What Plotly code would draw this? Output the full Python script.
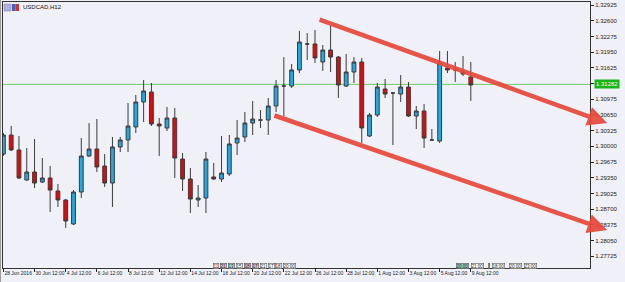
import plotly.graph_objects as go

# ---------------- data (USDCAD, H12 candles) ----------------
opens = [1.29841, 1.30234, 1.29924, 1.29302, 1.29468, 1.29261, 1.29344, 1.29075, 1.28889, 1.28392,
         1.29054, 1.29799, 1.29944, 1.29592, 1.29240, 1.29986, 1.30131, 1.30400, 1.30917, 1.31124,
         1.30462, 1.30379, 1.30586, 1.29737, 1.29323, 1.28889, 1.28930, 1.29365, 1.29323, 1.29427,
         1.30069, 1.30193, 1.30482, 1.30544, 1.30544, 1.30834, 1.31248, 1.31248, 1.31580, 1.32118,
         1.32118, 1.31745, 1.31993, 1.31848, 1.31248, 1.31538, 1.31745, 1.30213, 1.30648, 1.31186,
         1.31103, 1.31082, 1.31227, 1.30627, 1.30731, 1.30131, 1.30110, 1.31621, 1.31600, 1.31538, 1.31435]
highs = [1.30276, 1.30420, 1.30213, 1.29965, 1.30151, 1.29758, 1.29592, 1.29220, 1.28909, 1.29096,
         1.30172, 1.30482, 1.30565, 1.29841, 1.30193, 1.30193, 1.30896, 1.31062, 1.31372, 1.31310,
         1.30586, 1.30814, 1.30793, 1.29862, 1.29551, 1.29199, 1.29882, 1.29655, 1.30213, 1.30234,
         1.30544, 1.30710, 1.30938, 1.30751, 1.31000, 1.31372, 1.31849, 1.31704, 1.32387, 1.32345,
         1.32407, 1.32097, 1.32490, 1.31869, 1.31911, 1.31848, 1.31828, 1.30690, 1.31310, 1.31393,
         1.31124, 1.31476, 1.31331, 1.30834, 1.30876, 1.30358, 1.31973, 1.31973, 1.31745, 1.31869, 1.31745]
lows = [1.29800, 1.29903, 1.29323, 1.29290, 1.29137, 1.29240, 1.28640, 1.28744, 1.28309, 1.28371,
        1.28930, 1.29780, 1.29468, 1.29158, 1.28744, 1.29882, 1.29882, 1.30276, 1.30503, 1.30420,
        1.29799, 1.30317, 1.29344, 1.29075, 1.28619, 1.28744, 1.28619, 1.29310, 1.29261, 1.29385,
        1.29820, 1.30089, 1.30234, 1.30379, 1.30234, 1.30710, 1.30627, 1.31207, 1.31517, 1.31786,
        1.31724, 1.31559, 1.31538, 1.31000, 1.31227, 1.31310, 1.30068, 1.30193, 1.30607, 1.31000,
        1.30027, 1.30917, 1.30607, 1.30358, 1.29965, 1.30110, 1.30069, 1.31517, 1.31331, 1.31455, 1.30938]
closes = [1.30234, 1.29924, 1.29344, 1.29468, 1.29240, 1.29344, 1.29095, 1.28889, 1.28454, 1.29054,
          1.29799, 1.29944, 1.29572, 1.29240, 1.29986, 1.30131, 1.30420, 1.30917, 1.31145, 1.30462,
          1.30420, 1.30586, 1.29758, 1.29323, 1.28909, 1.28930, 1.29737, 1.29323, 1.29447, 1.30048,
          1.30172, 1.30482, 1.30565, 1.30544, 1.30834, 1.31248, 1.31248, 1.31580, 1.32159, 1.32118,
          1.31828, 1.31993, 1.31848, 1.31269, 1.31538, 1.31745, 1.30379, 1.30648, 1.31227, 1.31082,
          1.31103, 1.31227, 1.30627, 1.30731, 1.30172, 1.30131, 1.31724, 1.31580, 1.31580, 1.31497, 1.31269]

x_tick_index = [0, 4, 8, 12, 16, 20, 24, 28, 32, 36, 40, 44, 48, 52, 56, 60]
x_tick_labels = ["28 Jun 2016", "30 Jun 12:00", "4 Jul 12:00", "6 Jul 12:00", "8 Jul 12:00",
                 "12 Jul 12:00", "14 Jul 12:00", "18 Jul 12:00", "20 Jul 12:00", "22 Jul 12:00",
                 "26 Jul 12:00", "28 Jul 12:00", "1 Aug 12:00", "3 Aug 12:00", "5 Aug 12:00",
                 "9 Aug 12:00"]
y_tick_values = [1.27725, 1.28050, 1.28375, 1.28700, 1.29025, 1.29350, 1.29675, 1.30000, 1.30325,
                 1.30650, 1.30975, 1.31300, 1.31625, 1.31950, 1.32275, 1.32600, 1.32925]
bid_price = 1.31282

# trend channel anchor points (candle index, price)
upper_channel = [(40.4, 1.32635), (77.5, 1.30482)]
lower_channel = [(34.6, 1.30648), (77.5, 1.28267)]

# ---------------- figure ----------------
W, H = 625, 282
ML, MR, MT, MB = 3, 35, 2, 14
PW, PH = W - ML - MR, H - MT - MB

def px_x(px):
    return (px - ML) / PW

def px_y(py):
    return 1 - (py - MT) / PH

xs = list(range(len(opens)))

fig = go.Figure()
fig.add_trace(go.Candlestick(
    x=xs, open=opens, high=highs, low=lows, close=closes,
    increasing=dict(fillcolor="#22A9E3", line=dict(color="#3A3A3A", width=1)),
    decreasing=dict(fillcolor="#E10A0A", line=dict(color="#3A3A3A", width=1)),
    whiskerwidth=0, showlegend=False, hoverinfo="skip",
))

bg = "#F0F0F8"
fig.update_layout(
    width=W, height=H,
    margin=dict(l=ML, r=MR, t=MT, b=MB, autoexpand=False),
    paper_bgcolor=bg, plot_bgcolor=bg,
    showlegend=False,
    font=dict(family="Liberation Sans", size=6, color="#111111"),
)
fig.update_xaxes(
    range=[-0.05, 75.3], rangeslider=dict(visible=False),
    tickmode="array", tickvals=x_tick_index, ticktext=x_tick_labels,
    ticks="outside", ticklen=3, tickcolor="#222222", tickwidth=1,
    ticklabelposition="outside right", tickangle=0,
    tickfont=dict(size=5, color="#222222", family="Liberation Sans"),
    showgrid=False, zeroline=False,
    showline=True, linecolor="#333333", linewidth=1, mirror=True,
)
fig.update_yaxes(
    range=[1.27481, 1.32987], side="right",
    tickmode="array", tickvals=y_tick_values,
    ticktext=[f"{v:.5f}" for v in y_tick_values],
    ticks="outside", ticklen=3, tickcolor="#222222", tickwidth=1,
    tickfont=dict(size=6, color="#222222", family="Liberation Sans"),
    showgrid=False, zeroline=False,
    showline=True, linecolor="#333333", linewidth=1, mirror=True,
)

# left double frame line
fig.add_shape(type="line", xref="paper", yref="paper", x0=px_x(0.5), x1=px_x(0.5), y0=px_y(0), y1=px_y(282),
              line=dict(color="#9A9A9A", width=1))

# bid line
fig.add_shape(type="line", xref="paper", yref="y", x0=0, x1=1, y0=bid_price, y1=bid_price,
              line=dict(color="#6CCB6C", width=1), layer="below")
fig.add_annotation(xref="paper", yref="y", x=1, y=bid_price, xanchor="left", yanchor="middle",
                   xshift=4, text=f"{bid_price:.5f}", showarrow=False,
                   bgcolor="#17B317", font=dict(size=6, color="white"), borderpad=1)

# channel arrows
for (tx, ty), (hx, hy) in [upper_channel, lower_channel]:
    fig.add_annotation(x=hx, y=hy, ax=tx, ay=ty, xref="x", yref="y", axref="x", ayref="y",
                       showarrow=True, arrowhead=2, arrowsize=0.85, arrowwidth=4.6,
                       arrowcolor="rgba(232,72,58,0.92)", text="")

# title + icon
fig.add_shape(type="rect", xref="paper", yref="paper", x0=px_x(4), x1=px_x(11), y0=px_y(11), y1=px_y(4),
              fillcolor="#B4AEDC", line=dict(color="#7878A8", width=0.5))
fig.add_shape(type="rect", xref="paper", yref="paper", x0=px_x(12), x1=px_x(15.5), y0=px_y(11), y1=px_y(4),
              fillcolor="#3C5FC8", line=dict(width=0))
fig.add_shape(type="rect", xref="paper", yref="paper", x0=px_x(15.5), x1=px_x(19), y0=px_y(11), y1=px_y(4),
              fillcolor="#D83030", line=dict(width=0))
fig.add_annotation(xref="paper", yref="paper", x=px_x(21), y=px_y(7.5), xanchor="left", yanchor="middle",
                   text="USDCAD,H12", showarrow=False, font=dict(size=6, color="#111111"))

# small object-time boxes on the time axis
boxes = [("11", 216, "#FFFFFF"), ("21", 223, "#E8B4C4"), ("13", 231, "#A8DCD4"), ("15", 239, "#FFFFFF"),
         ("18", 247, "#E8B4C4"), ("17", 255, "#E8B4C4"), ("21", 263, "#FFFFFF"), ("17", 271, "#FFFFFF"),
         ("18", 278, "#FFFFFF"), ("20:00", 289, "#FFFFFF"),
         ("20:00", 462, "#8CCFC4"), ("21:00", 477, "#FFFFFF"), ("|", 489, "#FFFFFF"),
         ("18:00", 498, "#FFFFFF"), ("20:00", 515, "#FFFFFF"), ("23:00", 530, "#FFFFFF")]
for label, cx, col in boxes:
    fig.add_annotation(xref="paper", yref="paper", x=px_x(cx), y=px_y(265.5), xanchor="center",
                       yanchor="middle", text=label, showarrow=False, bgcolor=col,
                       bordercolor="#555555", borderwidth=0.6, borderpad=0,
                       font=dict(size=4.5, color="#222222"))

fig.write_html("out.html")
